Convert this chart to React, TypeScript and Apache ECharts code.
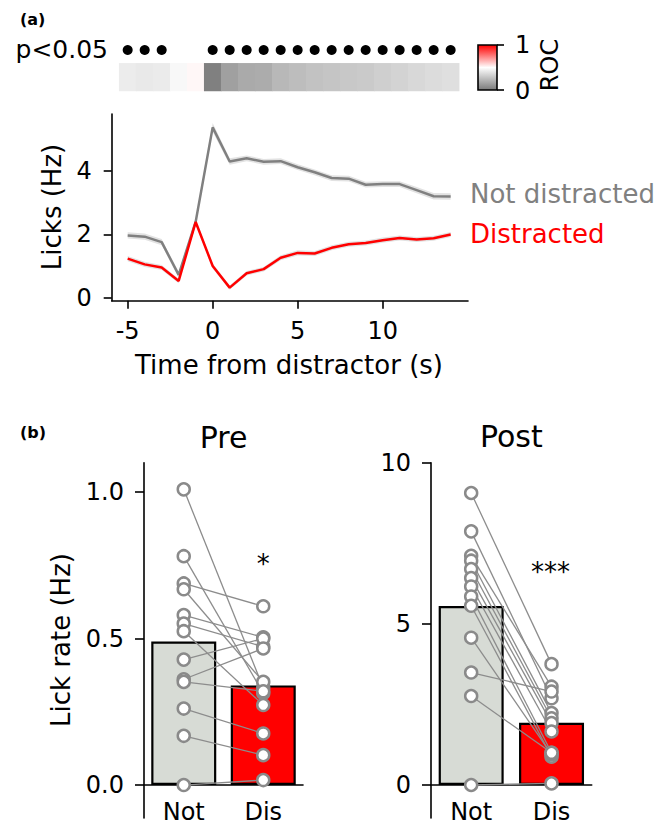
import React, { useEffect, useRef } from "react";
import * as echarts from "echarts";

// ---- Panel (a): time course ----
const times = [-5, -4, -3, -2, -1, 0, 1, 2, 3, 4, 5, 6, 7, 8, 9, 10, 11, 12, 13, 14];
const notDistracted = [1.97, 1.93, 1.76, 0.73, 2.4, 5.36, 4.29, 4.39, 4.28, 4.3, 4.11, 3.95, 3.77, 3.75, 3.56, 3.58, 3.58, 3.39, 3.2, 3.19];
const notSem = [0.1, 0.1, 0.1, 0.09, 0.1, 0.14, 0.1, 0.09, 0.09, 0.09, 0.09, 0.09, 0.09, 0.09, 0.09, 0.09, 0.09, 0.1, 0.1, 0.1];
const distracted = [1.24, 1.06, 0.96, 0.54, 2.39, 1.01, 0.33, 0.78, 0.91, 1.27, 1.42, 1.4, 1.58, 1.69, 1.73, 1.82, 1.89, 1.84, 1.88, 2.0];
const disSem = [0.08, 0.08, 0.08, 0.07, 0.08, 0.08, 0.07, 0.07, 0.07, 0.08, 0.08, 0.08, 0.08, 0.08, 0.08, 0.08, 0.08, 0.08, 0.08, 0.08];
const rocValues = [0.429, 0.417, 0.425, 0.474, 0.515, 0.023, 0.143, 0.18, 0.188, 0.233, 0.252, 0.271, 0.282, 0.293, 0.301, 0.32, 0.335, 0.353, 0.368, 0.38];
const sigTimes = [-5, -4, -3, 0, 1, 2, 3, 4, 5, 6, 7, 8, 9, 10, 11, 12, 13, 14];
const lineXTicks = [-5, 0, 5, 10];
const lineYTicks = [0, 2, 4];

// ---- Panel (b): per-subject lick rates ----
const groups = ["Not", "Dis"];
const preBars = [0.49, 0.34];
const preNot = [1.009, 0.781, 0.688, 0.668, 0.58, 0.551, 0.525, 0.428, 0.361, 0.352, 0.261, 0.168, 0.0];
const preDis = [0.332, 0.313, 0.61, 0.352, 0.504, 0.472, 0.273, 0.5, 0.466, 0.32, 0.176, 0.102, 0.017];
const preYTicks = [0, 0.5, 1.0];
const postBars = [5.55, 1.93];
const postNot = [9.06, 7.87, 7.11, 6.96, 6.7, 6.42, 6.16, 5.85, 5.56, 4.57, 3.49, 2.76, 0];
const postDis = [3.75, 2.69, 3.05, 2.23, 2.07, 1.92, 1.66, 1.0, 0.88, 0.95, 2.9, 1.0, 0.05];
const postYTicks = [0, 5, 10];

const FONT = "DejaVu Sans";
const GREY_LINE = "#808080";
const RED = "#ff0000";
const BAR_GREY = "#d7dbd5";
const PAIR_GREY = "#8c8c8c";

function bandSeries(values: number[], sem: number[], z: number) {
  return {
    type: "custom",
    xAxisIndex: 0,
    yAxisIndex: 0,
    silent: true,
    z,
    data: [[times[0], values[0]]],
    renderItem: (_params: any, api: any) => {
      const upper = times.map((t, i) => api.coord([t, values[i] + sem[i]]));
      const lower = times.map((t, i) => api.coord([t, values[i] - sem[i]])).reverse();
      return {
        type: "polygon",
        shape: { points: [...upper, ...lower] },
        style: { fill: "#e2e2e2" },
      };
    },
  };
}

const axisLineStyle = { color: "#000", width: 1.6 };
const labelStyle = { color: "#000", fontSize: 24, fontFamily: FONT };

function barPanel(idx: number, bars: number[], notVals: number[], disVals: number[]) {
  const series: any[] = [
    {
      type: "bar",
      xAxisIndex: idx,
      yAxisIndex: idx,
      barWidth: 65,
      z: 1,
      data: [
        { value: bars[0], itemStyle: { color: BAR_GREY } },
        { value: bars[1], itemStyle: { color: RED } },
      ],
      itemStyle: { borderColor: "#000", borderWidth: 2.2 },
    },
  ];
  notVals.forEach((v, i) => {
    series.push({
      type: "line",
      xAxisIndex: idx,
      yAxisIndex: idx,
      symbol: "none",
      z: 2,
      silent: true,
      data: [v, disVals[i]],
      lineStyle: { color: PAIR_GREY, width: 1.3 },
    });
  });
  series.push({
    type: "scatter",
    xAxisIndex: idx,
    yAxisIndex: idx,
    z: 3,
    symbolSize: 12,
    data: [...notVals.map((v) => [0, v]), ...disVals.map((v) => [1, v])],
    itemStyle: { color: "#fff", borderColor: "#8a8a8a", borderWidth: 2.5, opacity: 1 },
  });
  return series;
}

function text(x: number, y: number, t: string, opts: any = {}) {
  const { rotation, ...style } = opts;
  return {
    type: "text",
    x,
    y,
    rotation: rotation || 0,
    style: {
      text: t,
      fontFamily: FONT,
      fontSize: 24,
      fill: "#000",
      align: "center",
      verticalAlign: "middle",
      ...style,
    },
  };
}

export default function App() {
  const ref = useRef<HTMLDivElement>(null);
  useEffect(() => {
    document.body.style.margin = "0";
    const chart = echarts.init(ref.current!, null, { renderer: "svg" });
    const g = { outerBoundsMode: "none", containLabel: false };
    const option: any = {
      animation: false,
      textStyle: { fontFamily: FONT },
      grid: [
        { ...g, left: 111.7, top: 114, width: 356.3, height: 186.7 },
        { ...g, left: 111.7, top: 40, width: 356.3, height: 20 },
        { ...g, left: 119.2, top: 63.3, width: 340, height: 27.7 },
        { ...g, left: 144, top: 462.7, width: 159, height: 355.3 },
        { ...g, left: 431, top: 462.7, width: 160.7, height: 355.3 },
      ],
      xAxis: [
        {
          type: "value",
          gridIndex: 0,
          min: -5.94,
          max: 15.02,
          axisLine: { onZero: false, lineStyle: axisLineStyle },
          axisTick: { length: 8, lineStyle: axisLineStyle, customValues: lineXTicks },
          axisLabel: { ...labelStyle, margin: 18, customValues: lineXTicks },
          splitLine: { show: false },
        },
        { type: "value", gridIndex: 1, min: -5.94, max: 15.02, show: false },
        { type: "category", gridIndex: 2, data: times.map(String), show: false },
        {
          type: "category",
          gridIndex: 3,
          data: groups,
          axisLine: { onZero: true, lineStyle: axisLineStyle },
          axisTick: { show: false },
          axisLabel: { ...labelStyle, margin: -18 },
        },
        {
          type: "category",
          gridIndex: 4,
          data: groups,
          axisLine: { onZero: true, lineStyle: axisLineStyle },
          axisTick: { show: false },
          axisLabel: { ...labelStyle, margin: -18 },
        },
      ],
      yAxis: [
        {
          type: "value",
          gridIndex: 0,
          min: -0.08,
          max: 5.78,
          axisLine: { show: true, onZero: false, lineStyle: axisLineStyle },
          axisTick: { show: true, length: 8, lineStyle: axisLineStyle, customValues: lineYTicks },
          axisLabel: { ...labelStyle, margin: 20, customValues: lineYTicks },
          splitLine: { show: false },
        },
        { type: "value", gridIndex: 1, min: -1, max: 1, show: false },
        { type: "category", gridIndex: 2, data: ["ROC"], show: false },
        {
          type: "value",
          gridIndex: 3,
          min: -0.1125,
          max: 1.1,
          axisLine: { show: true, onZero: false, lineStyle: axisLineStyle },
          axisTick: { show: true, length: 9, lineStyle: axisLineStyle, customValues: preYTicks },
          axisLabel: {
            ...labelStyle,
            margin: 20,
            customValues: preYTicks,
            formatter: (v: number) => v.toFixed(1),
          },
          splitLine: { show: false },
        },
        {
          type: "value",
          gridIndex: 4,
          min: -1.024,
          max: 10,
          axisLine: { show: true, onZero: false, lineStyle: axisLineStyle },
          axisTick: { show: true, length: 9, lineStyle: axisLineStyle, customValues: postYTicks },
          axisLabel: { ...labelStyle, margin: 20, customValues: postYTicks },
          splitLine: { show: false },
        },
      ],
      visualMap: {
        type: "continuous",
        show: false,
        seriesIndex: 4,
        min: 0,
        max: 1,
        inRange: { color: ["#7a7a7a", "#ffffff", "#ff0000"] },
      },
      series: [
        bandSeries(notDistracted, notSem, 1),
        bandSeries(distracted, disSem, 1),
        {
          type: "line",
          xAxisIndex: 0,
          yAxisIndex: 0,
          symbol: "none",
          z: 3,
          data: times.map((t, i) => [t, notDistracted[i]]),
          lineStyle: { color: GREY_LINE, width: 2.5 },
        },
        {
          type: "line",
          xAxisIndex: 0,
          yAxisIndex: 0,
          symbol: "none",
          z: 4,
          data: times.map((t, i) => [t, distracted[i]]),
          lineStyle: { color: RED, width: 2.5 },
        },
        {
          type: "heatmap",
          xAxisIndex: 2,
          yAxisIndex: 2,
          data: times.map((_t, i) => [i, 0, rocValues[i]]),
          itemStyle: { borderWidth: 0 },
        },
        {
          type: "scatter",
          xAxisIndex: 1,
          yAxisIndex: 1,
          symbolSize: 10,
          data: sigTimes.map((t) => [t, 0]),
          itemStyle: { color: "#000", opacity: 1 },
        },
        ...barPanel(3, preBars, preNot, preDis),
        ...barPanel(4, postBars, postNot, postDis),
      ],
      graphic: [
        text(20, 19, "(a)", { align: "left", fontSize: 16, fontWeight: "bold" }),
        text(20, 432, "(b)", { align: "left", fontSize: 16, fontWeight: "bold" }),
        text(108, 49, "p<0.05", { align: "right", fontSize: 25 }),
        {
          type: "rect",
          shape: { x: 478, y: 45, width: 19, height: 45 },
          style: {
            fill: new echarts.graphic.LinearGradient(0, 0, 0, 1, [
              { offset: 0, color: "#ff0000" },
              { offset: 0.5, color: "#ffffff" },
              { offset: 1, color: "#7a7a7a" },
            ]),
            stroke: "#000",
            lineWidth: 1.6,
          },
        },
        { type: "line", shape: { x1: 497, y1: 45, x2: 504, y2: 45 }, style: { stroke: "#000", lineWidth: 1.6 } },
        { type: "line", shape: { x1: 497, y1: 90, x2: 504, y2: 90 }, style: { stroke: "#000", lineWidth: 1.6 } },
        text(515, 45, "1", { align: "left" }),
        text(515, 91, "0", { align: "left" }),
        text(550, 65, "ROC", { rotation: Math.PI / 2 }),
        text(52, 207, "Licks (Hz)", { rotation: Math.PI / 2, fontSize: 26 }),
        text(289, 365, "Time from distractor (s)", { fontSize: 26 }),
        text(470, 193.5, "Not distracted", { align: "left", fontSize: 26, fill: GREY_LINE }),
        text(470, 233.7, "Distracted", { align: "left", fontSize: 26, fill: RED }),
        text(223.5, 437.5, "Pre", { fontSize: 30 }),
        text(511.3, 436, "Post", { fontSize: 30 }),
        text(61, 640, "Lick rate (Hz)", { rotation: Math.PI / 2, fontSize: 26 }),
        text(263.3, 563.5, "*", { fontSize: 26 }),
        text(550.5, 571.8, "***", { fontSize: 26 }),
      ],
    };
    chart.setOption(option);
    return () => chart.dispose();
  }, []);
  return <div ref={ref} style={{ width: 670, height: 826 }} />;
}
